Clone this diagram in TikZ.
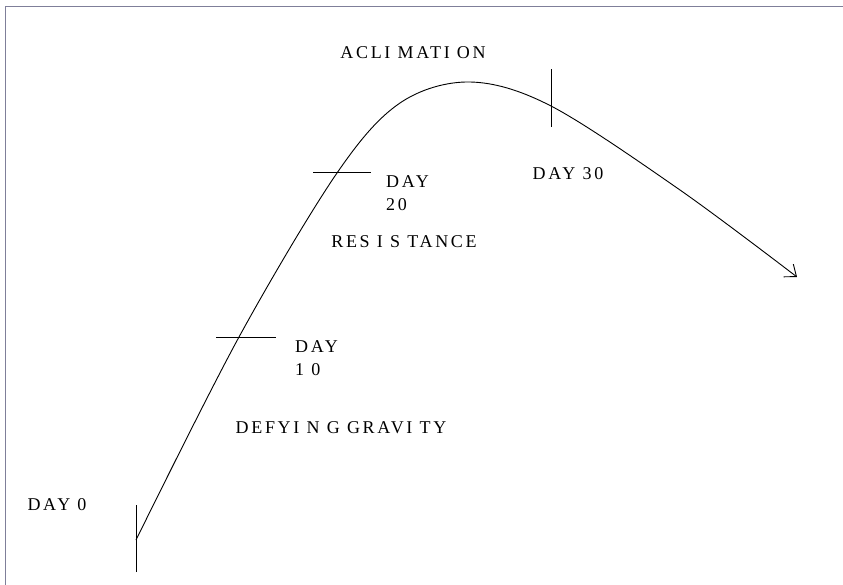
\documentclass[tikz,border=0pt]{standalone}
\usepackage{fontspec}
\newfontfamily\phasefont[LetterSpace=15]{Liberation Serif}
\usetikzlibrary{arrows.meta}
\definecolor{frameGrey}{HTML}{7F7F99}
\tikzset{
    % Text styles
    phase/.style={font={\phasefont\fontsize{18}{23.5}\selectfont}, inner sep=0pt},
    daylabel/.style={phase, align=left, anchor=north west},
    % Line styles
    tickmark/.style={line width=1pt},
    trend/.style={line width=0.9pt, -{Straight Barb[length=10pt,width=16pt]}},
    frameline/.style={frameGrey, line width=1.8pt}
}

\begin{document}
\begin{tikzpicture}[x=1pt, y=-1pt]
    \useasboundingbox (0,0) rectangle (843,585);

    % Frame (top and left edges only)
    \draw[frameline] (5.5,585) -- (5.5,6.5) -- (843,6.5);

    % Milestones on the curve
    \coordinate (d0) at (136,540);
    \coordinate (d10) at (239,337);
    \coordinate (d20) at (337,173);
    \coordinate (top) at (470,82);
    \coordinate (d30) at (551,106);
    \coordinate (tip) at (797,277);

    % Adaptation curve
    \draw[trend] plot[smooth, tension=0.55] coordinates
        {(d0) (d10) (d20) (400,103) (top) (d30) (680,190) (tip)};

    % Tick marks
    \draw[tickmark] ([yshift=-32]d0) -- ([yshift=35]d0);
    \draw[tickmark] ([xshift=-23]d10) -- ([xshift=37]d10);
    \draw[tickmark] ([xshift=-24]d20) -- ([xshift=34]d20);
    \draw[tickmark] ([yshift=-21]d30) -- ([yshift=37]d30);

    % Labels
    \node[phase] (acl) at (413,53) {ACLI MATI ON};
    \node[phase] (l30) at (568,174) {DAY 30};
    \node[daylabel] (l20) at (386,175) {DAY\\20};
    \node[phase] (res) at (404,242) {RES I S TANCE};
    \node[daylabel] (l10) at (295,340) {DAY\\1 0};
    \node[phase] (dgr) at (341,428) {DEFYI N G GRAVI TY};
    \node[phase] (l0) at (57,505) {DAY 0};
\end{tikzpicture}
\end{document}
